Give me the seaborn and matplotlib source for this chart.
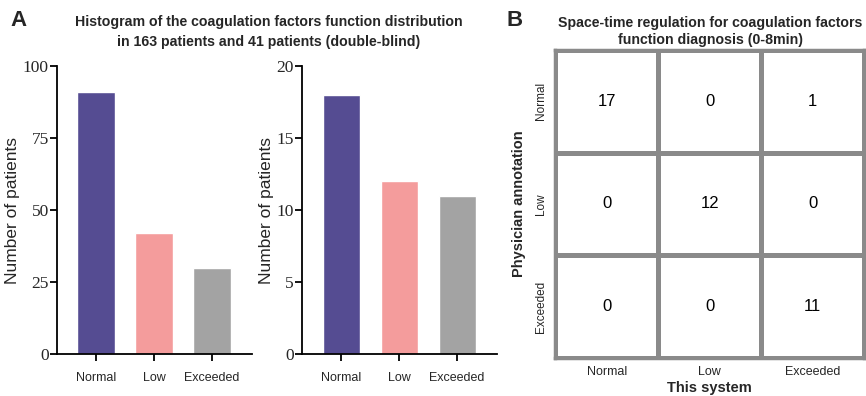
import matplotlib
matplotlib.use("Agg")
import matplotlib.pyplot as plt
import seaborn as sns
import numpy as np
import pandas as pd

categories = ["Normal", "Low", "Exceeded"]
counts_163 = [91, 42, 30]
counts_41 = [18, 12, 11]
confusion = [[17, 0, 1],
             [0, 12, 0],
             [0, 0, 11]]
bar_colors = ["#554C92", "#F49C9C", "#A3A3A3"]

sns.set_theme(style="white")
plt.rcParams["font.family"] = ["Liberation Sans", "DejaVu Sans"]

fig = plt.figure(figsize=(8.66, 3.96), dpi=100)

def bar_panel(rect, values, ymax, yticks):
    ax = fig.add_axes(rect)
    df = pd.DataFrame({"cat": categories, "n": values})
    sns.barplot(data=df, x="cat", y="n", hue="cat", palette=bar_colors,
                width=0.64, legend=False, ax=ax, saturation=1)
    ax.set_xlim(-0.67, 2.69)
    ax.set_ylim(0, ymax)
    ax.set_yticks(yticks)
    ax.set_yticklabels([str(t) for t in yticks], fontfamily="Liberation Serif", fontsize=12.5)
    ax.set_xticks(range(3))
    ax.set_xticklabels(categories, fontsize=9)
    ax.set_xlabel("")
    ax.set_ylabel("Number of patients", fontsize=12.5, labelpad=2)
    for s in ["top", "right"]:
        ax.spines[s].set_visible(False)
    for s in ["left", "bottom"]:
        ax.spines[s].set_color("black")
        ax.spines[s].set_linewidth(1.3)
    ax.tick_params(axis="both", which="both", direction="out", length=5, width=1.3,
                   color="black", left=True, bottom=True)
    ax.tick_params(axis="y", pad=1)
    ax.tick_params(axis="x", pad=8)
    return ax

bar_panel([0.066, 0.106, 0.225, 0.727], counts_163, 100, [0, 25, 50, 75, 100])
bar_panel([0.349, 0.106, 0.225, 0.727], counts_41, 20, [0, 5, 10, 15, 20])

fig.text(0.31, 0.945, "Histogram of the coagulation factors function distribution",
         ha="center", va="center", fontsize=10.2, fontweight="bold")
fig.text(0.31, 0.895, "in 163 patients and 41 patients (double-blind)",
         ha="center", va="center", fontsize=10.2, fontweight="bold")
fig.text(0.012, 0.948, "A", ha="left", va="center", fontsize=16, fontweight="bold")
fig.text(0.585, 0.948, "B", ha="left", va="center", fontsize=16, fontweight="bold")

axh = fig.add_axes([0.641, 0.096, 0.357, 0.778])
cm = pd.DataFrame(confusion, index=categories, columns=categories)
sns.heatmap(cm, annot=True, fmt="d", cmap=matplotlib.colors.ListedColormap(["white"]),
            cbar=False, linewidths=2.5, linecolor="#8A8A8A", ax=axh,
            annot_kws={"fontsize": 12, "color": "black"})
for s in axh.spines.values():
    s.set_visible(True)
    s.set_color("#8A8A8A")
    s.set_linewidth(2.5)
axh.set_xticklabels(categories, fontsize=9, rotation=0)
axh.set_yticklabels(categories, fontsize=8.5, rotation=90, va="center")
axh.tick_params(axis="both", length=0, pad=6)
axh.set_xlabel("This system", fontsize=10.5, fontweight="bold", labelpad=2)
axh.set_ylabel("Physician annotation", fontsize=10.5, fontweight="bold", labelpad=6)
fig.text(0.82, 0.943, "Space-time regulation for coagulation factors",
         ha="center", va="center", fontsize=10.2, fontweight="bold")
fig.text(0.82, 0.900, "function diagnosis (0-8min)",
         ha="center", va="center", fontsize=10.2, fontweight="bold")

fig.savefig("out.png", dpi=100)
